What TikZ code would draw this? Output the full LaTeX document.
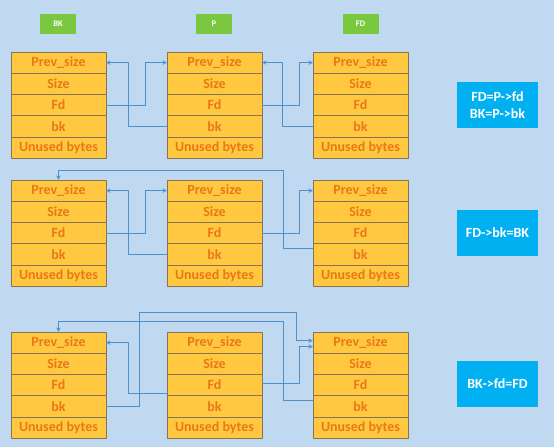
\documentclass[tikz,border=0pt]{standalone}
\usepackage{fontspec}
\setmainfont{Carlito}
\definecolor{bgblue}{RGB}{192,216,240}
\definecolor{cellfill}{RGB}{255,200,64}
\definecolor{celltext}{RGB}{232,120,24}
\definecolor{cellline}{RGB}{130,118,84}
\definecolor{taggreen}{RGB}{122,200,64}
\definecolor{noteblue}{RGB}{0,176,240}
\definecolor{linkblue}{RGB}{75,145,205}
\tikzset{
	cell/.style={draw=cellline, fill=cellfill, text=celltext, minimum width=95pt, minimum height=21.2pt, inner sep=0pt, font=\fontsize{14}{15}\selectfont\bfseries},
	tag/.style={fill=taggreen, text=white, minimum width=36pt, minimum height=20pt, inner sep=0pt, font=\fontsize{8.5}{9}\selectfont\bfseries},
	note/.style={fill=noteblue, text=white, minimum width=81pt, minimum height=46pt, inner sep=0pt, align=center, font=\fontsize{14}{16.5}\selectfont\bfseries},
	link/.style={->, draw=linkblue, line width=0.9pt}
}
\begin{document}
\begin{tikzpicture}[x=1pt, y=-1pt, >=stealth, line join=round]
			\fill[bgblue] (0,0) rectangle (554,447);
			\useasboundingbox (0,0) rectangle (554,447);
			\def\hcell{21.2}
			% chunk labels
			\node[tag] (tagBK) at (58,24) {BK};
			\node[tag] (tagP) at (214,24) {P};
			\node[tag] (tagFD) at (360.5,24) {FD};
			% three rows of chunks
			\foreach \n/\cx in {BK/58.5, P/214.5, FD/360.5}
			\foreach \r/\top in {1/52, 2/180, 3/332}
			\foreach \i/\t in {1/Prev\_size, 2/Size, 3/Fd, 4/bk, 5/Unused bytes}
			\node[cell] (\n\r-\i) at (\cx,{\top+\i*\hcell-\hcell/2}) {\t};
			% notes
			\node[note] (note1) at (497.5,105) {FD=P->fd\\BK=P->bk};
			\node[note] (note2) at (497.5,232.5) {FD->bk=BK};
			\node[note] (note3) at (497.5,384) {BK->fd=FD};
			% row 1
			\draw[link] (BK1-3.east) -- ++(39,0) |- (P1-1.west);
			\draw[link] (P1-4.west) -- ++(-38,0) |- (BK1-1.east);
			\draw[link] (P1-3.east) -- ++(37,0) |- (FD1-1.west);
			\draw[link] (FD1-4.west) -- ++(-30,0) |- (P1-1.east);
			% row 2
			\draw[link] (BK2-3.east) -- ++(39,0) |- (P2-1.west);
			\draw[link] (P2-4.west) -- ++(-38,0) |- (BK2-1.east);
			\draw[link] (P2-3.east) -- ++(37,0) |- (FD2-1.west);
			\draw[link] ([yshift=6pt]FD2-4.west) -- ++(-29,0) |- ([yshift=9pt]BK2-1.north) -- (BK2-1.north);
			% row 3
			\coordinate (hop3) at (296,312);
			\draw[link] (BK3-4.east) -- ++(33,0) |- (hop3) |- ([yshift=2pt]FD3-1.west);
			\draw[link] ([yshift=6pt]FD3-4.west) -- ++(-29,0) |- ([yshift=10pt]BK3-1.north) -- (BK3-1.north);
			\draw[link] ([yshift=1.5pt]P3-3.east) -- ++(37,0) |- ([yshift=-4pt]FD3-1.west);
			\draw[link] ([yshift=-8.5pt]P3-3.west) -- ++(-38,0) |- (BK3-1.east);
	\end{tikzpicture}
\end{document}
